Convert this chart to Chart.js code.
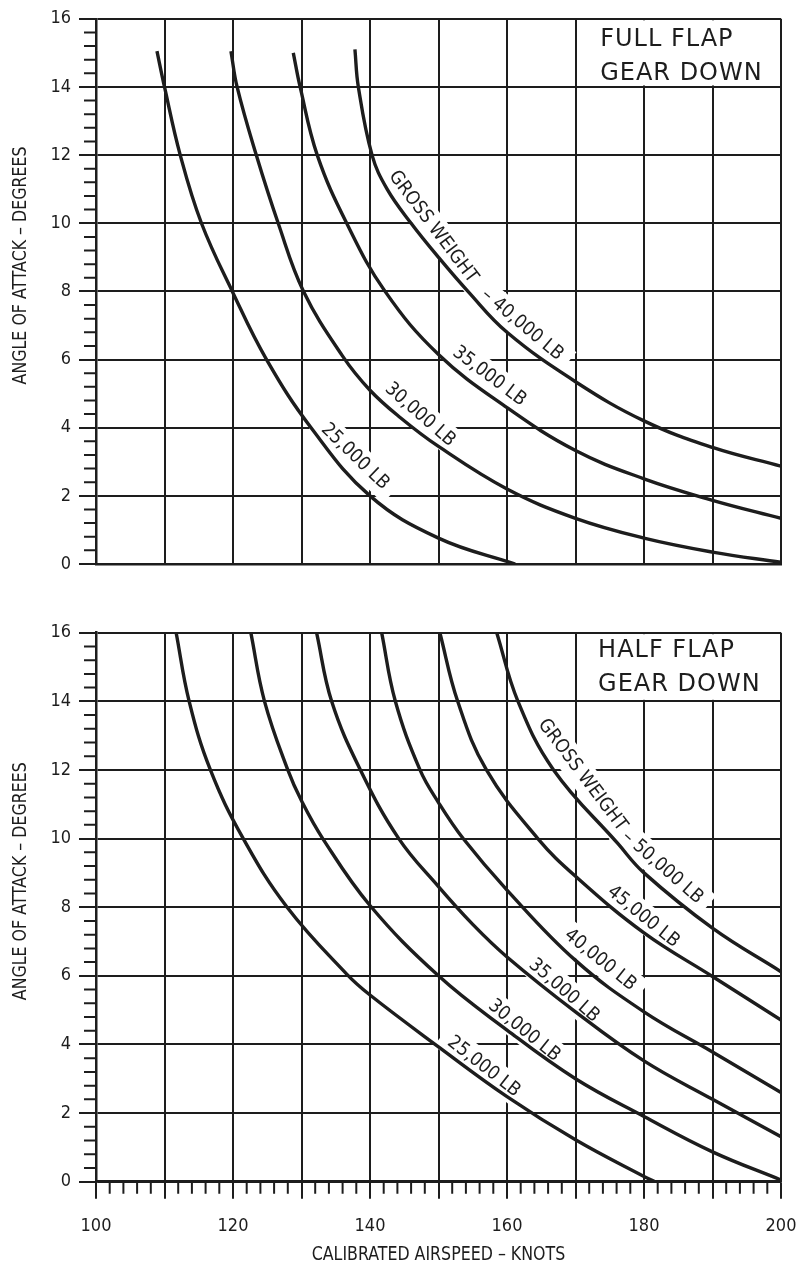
<!DOCTYPE html>
<html>
<head>
<meta charset="utf-8">
<script src="https://cdn.jsdelivr.net/npm/chart.js@4.4.0/dist/chart.umd.min.js"></script>
<style>
  html, body { margin: 0; padding: 0; background: #fff; }
  #wrap { position: relative; width: 797px; height: 1264px; }
  canvas { position: absolute; left: 0; }
  #fullFlap { top: 0; }
  #halfFlap { top: 600px; }
</style>
</head>
<body>
<div id="wrap">
  <canvas id="fullFlap" width="797" height="600"></canvas>
  <canvas id="halfFlap" width="797" height="664"></canvas>
</div>
<script>
// =========================
// DADOS
// =========================
const speedLabels = [100, 120, 140, 160, 180, 200];
const aoaLabels = [0, 2, 4, 6, 8, 10, 12, 14, 16];

// full flap - gear down
const full25Spd = [108.9, 110, 112.3, 115.4, 119.9, 124.9, 131.4, 140, 150, 161.2];
const full25Aoa = [15.05, 14, 12, 10, 8, 6, 4, 2, 0.76, 0];
const full30Spd = [119.7, 120.6, 123.4, 126.6, 130.3, 136.0, 140, 144.4, 150, 160, 170, 180, 190, 200];
const full30Aoa = [15.05, 14, 12, 10, 8, 6.1, 5.1, 4.3, 3.45, 2.2, 1.34, 0.76, 0.35, 0.05];
const full35Spd = [128.8, 129.8, 132.3, 136.6, 142.2, 150, 160, 170, 180, 190, 200];
const full35Aoa = [15.0, 14, 12, 10, 8, 6.15, 4.59, 3.33, 2.5, 1.87, 1.34];
const full40Spd = [137.8, 138.3, 140.3, 142.5, 146, 150, 154.3, 160, 170, 180, 190, 200];
const full40Aoa = [15.1, 14, 12, 11.0, 10, 9.0, 8, 6.8, 5.35, 4.2, 3.42, 2.87];

// half flap - gear down
const half25Spd = [111.7, 113.6, 116.7, 121.5, 127.9, 136.6, 140, 150, 160, 170, 180, 181.6];
const half25Aoa = [16, 14, 12, 10, 8, 6.05, 5.44, 3.93, 2.48, 1.22, 0.15, 0];
const half30Spd = [122.6, 124.6, 128, 130, 133.1, 140, 150, 160, 170, 180, 190, 200];
const half30Aoa = [16, 14, 12, 11.1, 10, 8.05, 6.0, 4.42, 3.0, 1.9, 0.87, 0.05];
const half35Spd = [132.2, 134.4, 138.6, 144.2, 150, 155, 160, 170, 180, 190, 200];
const half35Aoa = [16, 14, 12, 10, 8.6, 7.5, 6.55, 4.95, 3.52, 2.4, 1.31];
const half40Spd = [141.7, 143.7, 147.3, 150, 153.6, 160, 170, 180, 190, 200];
const half40Aoa = [16, 14, 12, 11.05, 10, 8.5, 6.45, 4.95, 3.78, 2.6];
const half45Spd = [150.2, 152.8, 157, 164.5, 170, 180, 190, 200];
const half45Aoa = [16, 14, 12, 10, 8.9, 7.25, 5.98, 4.71];
const half50Spd = [158.5, 161.6, 166.8, 176.2, 180, 190, 200];
const half50Aoa = [16, 14, 12, 9.85, 9.0, 7.39, 6.12];

// textos
const fullTitle = ['FULL FLAP', 'GEAR DOWN'];
const halfTitle = ['HALF FLAP', 'GEAR DOWN'];
const fullNames = ['GROSS WEIGHT', '\u2013 40,000 LB', '35,000 LB', '30,000 LB', '25,000 LB'];
const halfNames = ['GROSS WEIGHT', '\u2013 50,000 LB', '45,000 LB', '40,000 LB', '35,000 LB', '30,000 LB', '25,000 LB'];
const yTitle = 'ANGLE OF ATTACK \u2013 DEGREES';
const xTitle = 'CALIBRATED AIRSPEED \u2013 KNOTS';

// =========================
// ESTILO
// =========================
const INK = '#1d1d1d';
const NARROW = "'DejaVu Sans Condensed', 'Liberation Sans Narrow', 'Arial Narrow', sans-serif";
const LABEL_FONT = "19px " + NARROW;
const AXIS_FONT = "20px " + NARROW;
const TITLE_FONT = "24px 'DejaVu Sans', sans-serif";

// onde ficam os rotulos das curvas (knots, graus, rotacao)
const fullSpots = [
  [149.2, 9.89, 53], [162.2, 7.02, 40], [157.4, 5.51, 37], [147.3, 4.38, 41], [137.8, 3.15, 44]
];
const halfSpots = [
  [171.0, 11.85, 53], [182.7, 9.16, 41], [179.9, 7.72, 39], [173.6, 6.46, 39],
  [168.3, 5.57, 41], [162.5, 4.4, 39], [156.6, 3.35, 38]
];

function series(spd, aoa) {
  return { data: spd.map((v, i) => ({ x: v, y: aoa[i] })) };
}

// =========================
// PLUGINS
// =========================
const curveLabels = {
  id: 'curveLabels',
  beforeDatasetsDraw(chart, args, opts) {
    const { ctx, scales: { x, y } } = chart;
    ctx.save();
    ctx.fillStyle = '#fff';
    // caixa do titulo sem grade
    const bx0 = x.getPixelForValue(170), bx1 = x.getPixelForValue(200);
    const by0 = y.getPixelForValue(16), by1 = y.getPixelForValue(14);
    ctx.fillRect(bx0 + 1.5, by0 + 1.5, bx1 - bx0 - 3, by1 - by0 - 3);
    // apagar grade atras dos rotulos
    ctx.font = LABEL_FONT;
    opts.names.forEach((t, i) => {
      const [vx, vy, rot] = opts.spots[i];
      const w = ctx.measureText(t).width;
      ctx.save();
      ctx.translate(x.getPixelForValue(vx), y.getPixelForValue(vy));
      ctx.rotate(rot * Math.PI / 180);
      ctx.fillRect(-w / 2 - 9, -14, w + 18, 28);
      ctx.restore();
    });
    ctx.restore();
  },
  afterDatasetsDraw(chart, args, opts) {
    const { ctx, scales: { x, y } } = chart;
    ctx.save();
    ctx.fillStyle = INK;
    ctx.font = LABEL_FONT;
    ctx.textAlign = 'center';
    ctx.textBaseline = 'middle';
    opts.names.forEach((t, i) => {
      const [vx, vy, rot] = opts.spots[i];
      ctx.save();
      ctx.translate(x.getPixelForValue(vx), y.getPixelForValue(vy));
      ctx.rotate(rot * Math.PI / 180);
      ctx.fillText(t, 0, 0);
      ctx.restore();
    });
    // titulo
    ctx.font = TITLE_FONT;
    ctx.textAlign = 'left';
    ctx.textBaseline = 'alphabetic';
    ctx.letterSpacing = '1px';
    opts.title.forEach((t, i) => {
      ctx.fillText(t, x.getPixelForValue(opts.titleX), y.getPixelForValue(opts.titleY[i]));
    });
    ctx.restore();
  }
};

const minorTicks = {
  id: 'minorTicks',
  afterDraw(chart, args, opts) {
    const { ctx, scales: { x, y }, chartArea } = chart;
    ctx.save();
    ctx.strokeStyle = INK;
    ctx.lineWidth = 2;
    ctx.beginPath();
    // graus: a cada 0.4
    for (let i = 1; i < 40; i++) {
      if (i % 5 === 0) continue;
      const py = y.getPixelForValue(i * 0.4);
      ctx.moveTo(chartArea.left - 12, py);
      ctx.lineTo(chartArea.left, py);
    }
    // knots: a cada 2
    if (opts.xMinor) {
      for (let v = 102; v < 200; v += 2) {
        if (v % 10 === 0) continue;
        const px = x.getPixelForValue(v);
        ctx.moveTo(px, chartArea.bottom);
        ctx.lineTo(px, chartArea.bottom + 12);
      }
    }
    ctx.stroke();
    ctx.restore();
  }
};

// titulos dos eixos, fonte estreita comprimida
const axisTitles = {
  id: 'axisTitles',
  afterDraw(chart, args, opts) {
    const { ctx, chartArea } = chart;
    ctx.save();
    ctx.fillStyle = INK;
    ctx.font = AXIS_FONT;
    ctx.textAlign = 'center';
    ctx.textBaseline = 'middle';
    ctx.save();
    ctx.translate(20.5, (chartArea.top + chartArea.bottom) / 2 - 26);
    ctx.rotate(-Math.PI / 2);
    ctx.scale(0.88, 1);
    ctx.fillText(yTitle, 0, 0);
    ctx.restore();
    if (opts.showX) {
      ctx.save();
      ctx.translate((chartArea.left + chartArea.right) / 2, chartArea.bottom + 73);
      ctx.scale(0.88, 1);
      ctx.fillText(xTitle, 0, 0);
      ctx.restore();
    }
    ctx.restore();
  }
};

// =========================
// GRAFICOS
// =========================
function makeChart(id, sets, cfg) {
  return new Chart(document.getElementById(id), {
    type: 'line',
    data: { datasets: sets },
    options: {
      responsive: false,
      animation: false,
      events: [],
      layout: { padding: { top: cfg.padTop, right: 16, left: 0, bottom: 0 } },
      elements: {
        point: { radius: 0 },
        line: { borderWidth: 3.4, borderColor: INK, tension: 0.4, fill: false, borderCapStyle: 'butt' }
      },
      plugins: {
        legend: { display: false },
        tooltip: { enabled: false },
        curveLabels: { names: cfg.names, spots: cfg.spots, title: cfg.title, titleX: cfg.titleX, titleY: cfg.titleY },
        minorTicks: { xMinor: cfg.xLabels },
        axisTitles: { showX: cfg.xLabels }
      },
      scales: {
        x: {
          type: 'linear', min: 100, max: 200,
          ticks: {
            display: cfg.xLabels, stepSize: 10, autoSkip: false, maxRotation: 0, padding: 17,
            color: INK, font: { family: NARROW, size: 18 },
            callback: v => speedLabels.includes(v) ? String(v) : ''
          },
          grid: { color: INK, lineWidth: 2, drawTicks: cfg.xLabels, tickLength: 17, tickWidth: 2, tickColor: INK },
          border: { color: INK, width: 2.5 },
          afterFit(s) { s.height = cfg.xHeight; s.paddingLeft = 0; s.paddingRight = 0; }
        },
        y: {
          type: 'linear', min: 0, max: 16,
          ticks: {
            stepSize: 2, padding: 8, color: INK, font: { family: NARROW, size: 18 },
            callback: v => aoaLabels.includes(v) ? String(v) : ''
          },
          grid: { color: INK, lineWidth: 2, tickLength: 17, tickWidth: 2, tickColor: INK },
          border: { color: INK, width: 2.5 },
          afterFit(s) { s.width = 96; }
        }
      }
    },
    plugins: [curveLabels, minorTicks, axisTitles]
  });
}

makeChart('fullFlap', [
  series(full25Spd, full25Aoa),
  series(full30Spd, full30Aoa),
  series(full35Spd, full35Aoa),
  series(full40Spd, full40Aoa)
], {
  padTop: 15.5, xHeight: 36, xLabels: false,
  names: fullNames, spots: fullSpots,
  title: fullTitle, titleX: 173.6, titleY: [15.21, 14.21]
});

makeChart('halfFlap', [
  series(half25Spd, half25Aoa),
  series(half30Spd, half30Aoa),
  series(half35Spd, half35Aoa),
  series(half40Spd, half40Aoa),
  series(half45Spd, half45Aoa),
  series(half50Spd, half50Aoa)
], {
  padTop: 32.7, xHeight: 82.3, xLabels: true,
  names: halfNames, spots: halfSpots,
  title: halfTitle, titleX: 173.3, titleY: [15.30, 14.31]
});
</script>
</body>
</html>
